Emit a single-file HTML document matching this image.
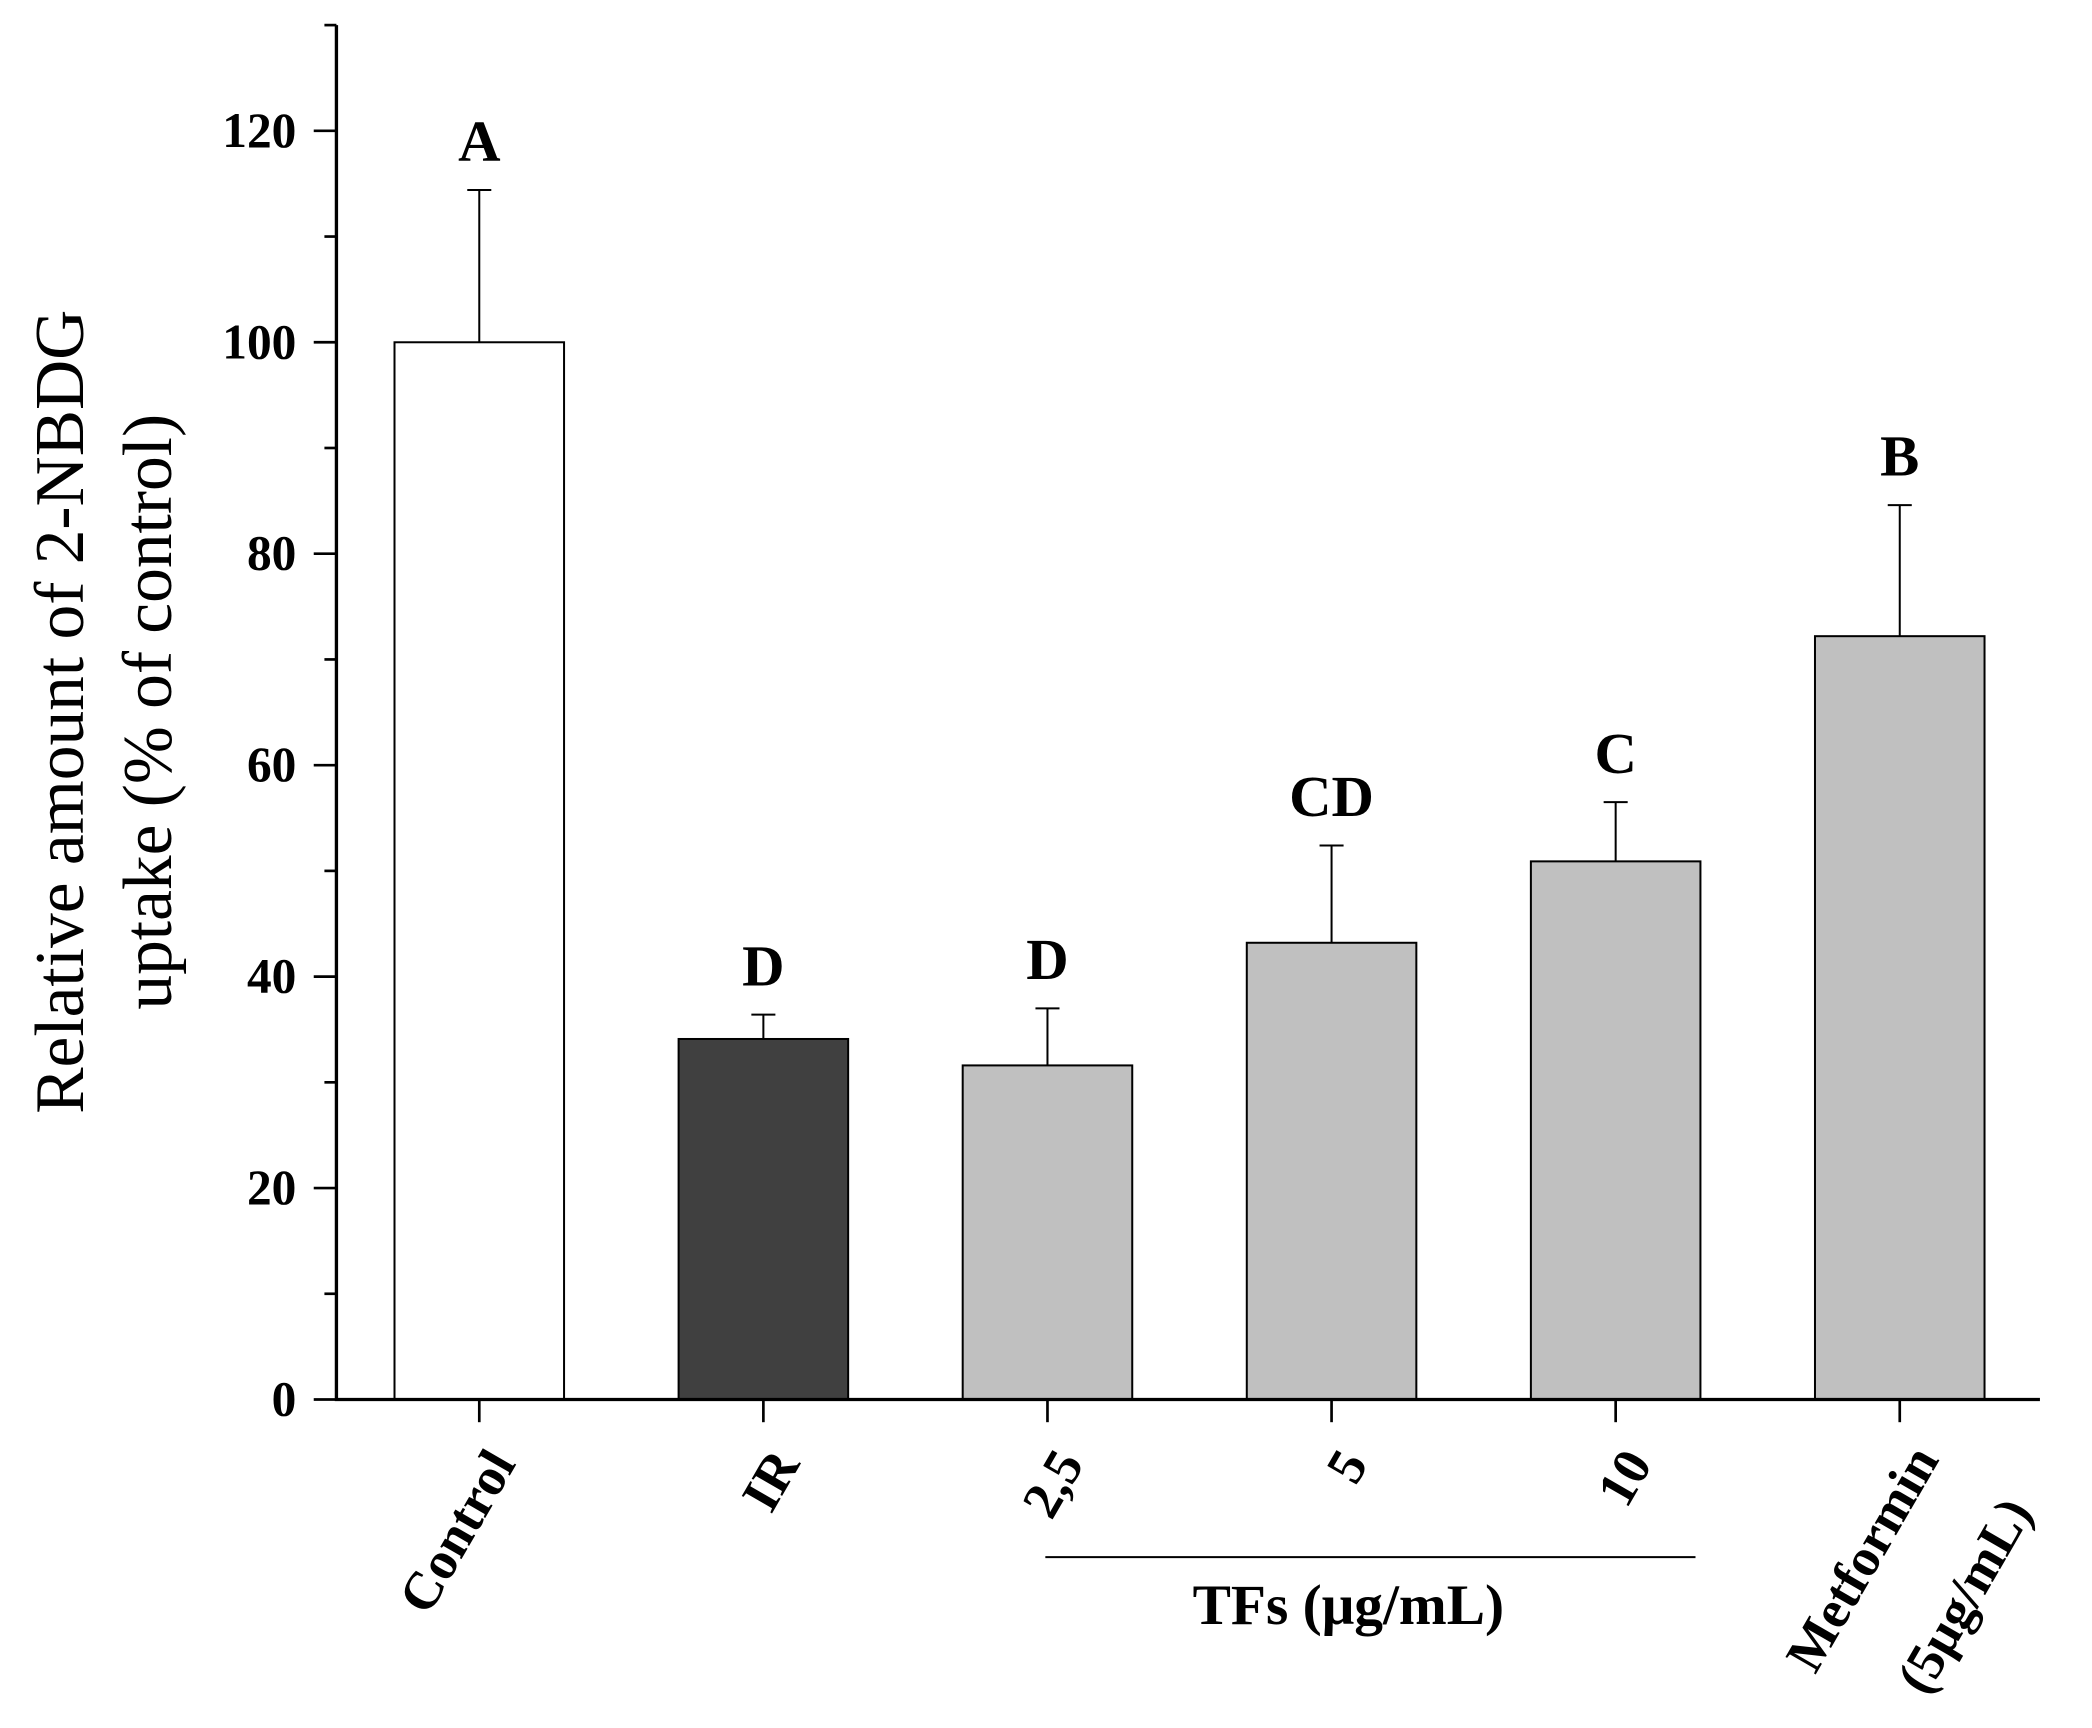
<!DOCTYPE html>
<html><head><meta charset="utf-8"><style>
html,body{margin:0;padding:0;background:#fff;}
svg{display:block;}
text{font-family:"Liberation Serif",serif;font-weight:bold;fill:#000;}
</style></head><body>
<svg id="chart" width="2092" height="1728" viewBox="0 0 1567 1294" preserveAspectRatio="none" xmlns="http://www.w3.org/2000/svg">
<g id="g"></g>
</svg>
<script>
const categories = ["Control","IR","2.5","5","10","Metformin"];
const values = [100, 34.1, 31.6, 43.2, 50.9, 72.2];
const errTops = [114.4, 36.4, 37.0, 52.4, 56.5, 84.6];
const letters = ["A","D","D","CD","C","B"];
const fills = ["#ffffff","#404040","#c0c0c0","#c0c0c0","#c0c0c0","#c0c0c0"];
const yTicks = [0,20,40,60,80,100,120];
const yMinor = [10,30,50,70,90,110,130];

const NS="http://www.w3.org/2000/svg";
const g=document.getElementById('g');
const X0=252, X1=1528, Y0=1048, YMAX=130, TOPY=18.8;
function y(v){return Y0-(Y0-TOPY)*v/YMAX;}
function xc(i){return 359+i*212.8;}
const BW=127;
function el(tag,attrs,txt){const e=document.createElementNS(NS,tag);for(const k in attrs)e.setAttribute(k,attrs[k]);if(txt!==undefined)e.textContent=txt;g.appendChild(e);return e;}

categories.forEach((c,i)=>{
  const b=el('rect',{x:xc(i)-BW/2,y:y(values[i]),width:BW,height:Y0-y(values[i]),fill:fills[i],stroke:'#000','stroke-width':1.5});
  
  
  const e=el('path',{d:`M${xc(i)} ${y(values[i])}V${y(errTops[i])}M${xc(i)-9} ${y(errTops[i])}H${xc(i)+9}`,stroke:'#000','stroke-width':1.5,fill:'none'});
  
  
  const t=el('text',{x:xc(i),y:y(errTops[i])-22,'text-anchor':'middle','font-size':44},letters[i]);
  
  
  const tk=el('line',{x1:xc(i),x2:xc(i),y1:Y0,y2:Y0+17,stroke:'#000','stroke-width':2});
  
  
});
const ax=el('path',{d:`M${X0} ${TOPY}V${Y0}H${X1}`,stroke:'#000','stroke-width':2.5,fill:'none'});


yTicks.forEach(v=>{
  const l=el('line',{x1:X0-17,x2:X0,y1:y(v),y2:y(v),stroke:'#000','stroke-width':2});
  
  
  const t=el('text',{x:X0-30,y:y(v)+12,'text-anchor':'end','font-size':37},String(v));
  
  
});
yMinor.forEach(v=>{
  const l=el('line',{x1:X0-9,x2:X0,y1:y(v),y2:y(v),stroke:'#000','stroke-width':2});
  
  
});
const xl=["Control","IR","2,5","5","10"];
xl.forEach((s,i)=>{
  const t=el('text',{x:0,y:0,'text-anchor':'end','font-size':40,transform:`translate(${xc(i)+28},${Y0+48}) rotate(-60)`},s);
  
  
});
const m1=el('text',{'text-anchor':'end','font-size':40,transform:`translate(${xc(5)+30},${Y0+45}) rotate(-60)`},"Metformin");


const m2=el('text',{'text-anchor':'end','font-size':40,transform:`translate(${xc(5)+100},${Y0+84}) rotate(-60)`},"(5μg/mL)");


const gl=el('line',{x1:783,x2:1270,y1:1166,y2:1166,stroke:'#000','stroke-width':1.5});


const gt=el('text',{x:1010,y:1216,'text-anchor':'middle','font-size':43},"TFs (μg/mL)");


const y1=el('text',{'text-anchor':'middle','font-size':52,style:'font-weight:normal',transform:'translate(62,533) rotate(-90)'},"Relative amount of 2-NBDG");


const y2=el('text',{'text-anchor':'middle','font-size':52,style:'font-weight:normal',transform:'translate(128,533) rotate(-90)'},"uptake (% of control)");


</script>
</body></html>
